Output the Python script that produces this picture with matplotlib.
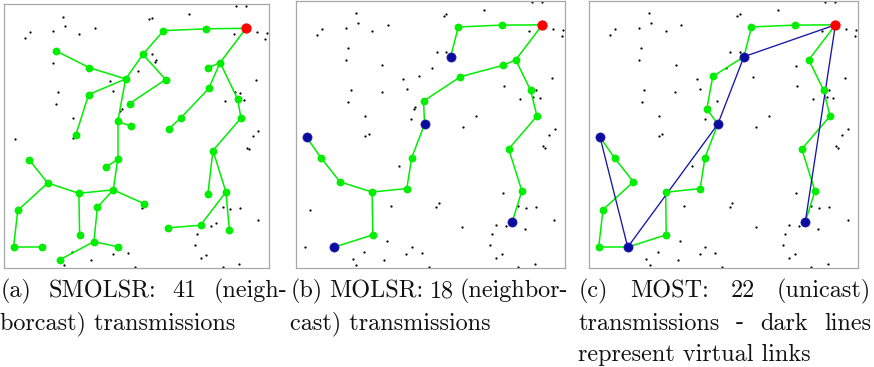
import matplotlib
matplotlib.use("Agg")
import matplotlib.pyplot as plt

# all nodes of the network that do not forward in (a), field coords 0..100
dots_x = [87.7, 91.6, 22.4, 70.1, 55.0, 56.0, 9.8, 7.9, 18.6, 23.1, 28.5, 34.3, 95.6, 99.4, 98.8,
          86.8, 56.0, 57.5, 57.0, 18.6, 50.8, 40.0, 41.2, 20.5, 19.6, 95.2, 89.2, 83.4, 90.8, 44.5,
          25.9, 4.1, 25.9, 96.2, 94.2, 91.8, 92.7, 52.3, 82.7, 85.6, 89.2, 96.1, 78.2, 80.3, 73.0,
          72.1, 74.4, 76.5, 25.6, 41.1, 47.0, 33.0, 22.5, 49.6, 82.7, 89.0, 87.2, 43.8]
dots_y = [0.6, 0.6, 4.8, 3.7, 5.8, 5.2, 10.5, 12.8, 10.1, 8.5, 11.4, 9.0, 10.7, 11.0, 13.1,
          11.5, 19.1, 21.2, 22.0, 22.2, 25.2, 29.2, 33.0, 33.4, 37.9, 28.8, 33.6, 36.8, 36.5, 39.7,
          43.0, 51.1, 50.7, 48.2, 50.1, 54.5, 55.0, 77.3, 76.9, 77.7, 77.3, 81.9, 84.2, 82.8, 87.2,
          91.4, 96.2, 94.9, 94.0, 94.7, 94.4, 97.0, 99.0, 99.6, 99.7, 98.6, 33.5, 40.5]

# (a) SMOLSR tree, node 0 is the source
a_x = [91.5, 76.4, 60.3, 52.5, 46.0, 32.2, 19.5, 32.0, 27.1, 61.1, 47.5, 43.0, 47.9, 81.7, 77.0,
       77.4, 67.0, 62.2, 88.3, 89.6, 43.0, 38.4, 41.3, 53.1, 28.3, 16.5, 9.5, 5.2, 3.6, 14.4,
       28.6, 35.3, 34.0, 43.2, 21.2, 79.0, 77.1, 83.9, 85.2, 74.3, 61.9]
a_y = [9.2, 9.4, 10.1, 19.1, 28.4, 24.1, 17.7, 34.3, 49.8, 28.6, 37.7, 44.4, 46.3, 22.2, 24.3,
       32.0, 43.0, 47.4, 36.0, 43.2, 58.9, 61.8, 70.4, 75.7, 71.7, 67.8, 59.0, 78.2, 92.2, 92.2,
       87.6, 77.0, 90.0, 92.0, 96.8, 55.5, 71.8, 71.2, 85.5, 83.8, 84.8]
a_edges = [(0, 1), (1, 2), (2, 3), (3, 4), (3, 9), (9, 10), (4, 5), (5, 6), (4, 7), (7, 8),
           (4, 11), (11, 12), (0, 13), (13, 14), (13, 15), (15, 16), (16, 17), (13, 18), (18, 19),
           (19, 35), (11, 20), (20, 21), (20, 22), (22, 23), (22, 24), (24, 25), (25, 26), (25, 27),
           (27, 28), (28, 29), (24, 30), (22, 31), (31, 32), (32, 33), (32, 34), (35, 36), (35, 37),
           (37, 38), (37, 39), (39, 40)]

# (b) MOLSR tree
b_x = [91.6, 76.5, 60.4, 57.6, 81.7, 77.1, 61.2, 47.5, 47.9, 43.1, 41.3, 28.4, 16.5, 9.6, 4.1,
       28.7, 14.4, 87.2, 89.6, 79.1, 84.0, 80.4]
b_y = [9.1, 9.2, 9.9, 21.0, 22.2, 24.2, 28.5, 37.6, 46.2, 58.8, 70.3, 71.6, 67.8, 59.0, 51.1,
       87.6, 92.2, 33.5, 43.2, 55.5, 71.2, 82.8]
b_edges = [(0, 1), (1, 2), (2, 3), (0, 4), (4, 5), (5, 6), (6, 7), (7, 8), (8, 9), (9, 10),
           (10, 11), (11, 12), (12, 13), (13, 14), (11, 15), (15, 16), (4, 17), (17, 18), (18, 19),
           (19, 20), (20, 21)]
b_members = [3, 8, 14, 16, 21]

# (c) MOST tree
c_x = [91.6, 76.5, 60.4, 57.6, 46.0, 43.8, 47.9, 43.1, 41.3, 28.5, 28.7, 14.4, 3.6, 5.2, 16.5,
       9.6, 4.1, 81.7, 87.2, 89.6, 79.1, 84.0, 80.4]
c_y = [9.1, 9.2, 9.9, 21.0, 28.4, 40.5, 46.2, 58.8, 70.3, 71.7, 87.6, 92.2, 92.2, 78.2, 67.8,
       59.0, 51.1, 22.2, 33.5, 43.2, 55.5, 71.2, 82.8]
c_edges = [(0, 1), (1, 2), (2, 3), (3, 4), (4, 5), (5, 6), (6, 7), (7, 8), (8, 9), (9, 10),
           (10, 11), (11, 12), (12, 13), (13, 14), (14, 15), (15, 16), (0, 17), (17, 18), (18, 19),
           (19, 20), (20, 21), (21, 22)]
c_virtual = [(0, 3), (3, 6), (6, 11), (11, 16), (0, 22)]
c_members = [3, 6, 11, 16, 22]

captions = [
    [["(a)", "SMOLSR:", "41", "(neigh-"], "borcast) transmissions"],
    [["(b)", "MOLSR:", "18", "(neighbor-"], "cast) transmissions"],
    [["(c)", "MOST:", "22", "(unicast)"], ["transmissions", "-", "dark", "lines"], "represent virtual links"],
]

GREEN = "#00ee00"
BLUE = "#0b0b9c"
W, H = 874, 367

fig = plt.figure(figsize=(W / 100, H / 100), dpi=100)

# axes boxes in pixels (left, top, right, bottom)
boxes = [(4, 4, 268.5, 268), (295.5, 0.5, 565, 268), (589, 0.5, 858, 268)]
axs = []
for l, t, r, b in boxes:
    ax = fig.add_axes([l / W, 1 - b / H, (r - l) / W, (b - t) / H])
    ax.set_xlim(0, 100)
    ax.set_ylim(100, 0)
    ax.set_xticks([])
    ax.set_yticks([])
    for s in ax.spines.values():
        s.set_color("#a8a8a8")
        s.set_linewidth(0.9)
    # black dots: every node of the network
    ax.scatter(dots_x + a_x, dots_y + a_y, s=2.6, c="black", linewidths=0, zorder=1)
    axs.append(ax)


def draw_tree(ax, xs, ys, edges, color, lw, z):
    for i, j in edges:
        ax.plot([xs[i], xs[j]], [ys[i], ys[j]], color=color, lw=lw, zorder=z,
                solid_capstyle="round")


def draw_nodes(ax, xs, ys, members):
    n = range(1, len(xs))
    gx = [xs[i] for i in n if i not in members]
    gy = [ys[i] for i in n if i not in members]
    ax.plot(gx, gy, "o", ms=4.6, color=GREEN, mec=GREEN, zorder=4)
    if members:
        ax.plot([xs[i] for i in members], [ys[i] for i in members], "o", ms=6.6,
                color=BLUE, mec="#2020b0", mew=0.5, zorder=5)
    ax.plot(xs[0], ys[0], "o", ms=6.4, color="red", mec="red", zorder=6)


draw_tree(axs[0], a_x, a_y, a_edges, GREEN, 1.1, 2)
draw_nodes(axs[0], a_x, a_y, [])

draw_tree(axs[1], b_x, b_y, b_edges, GREEN, 1.1, 2)
draw_nodes(axs[1], b_x, b_y, b_members)

draw_tree(axs[2], c_x, c_y, c_edges, GREEN, 1.1, 2)
draw_tree(axs[2], c_x, c_y, c_virtual, "#1515a8", 0.95, 3)
draw_nodes(axs[2], c_x, c_y, c_members)

# captions, justified like in the paper
font = dict(family="cmr10", size=17.4, color="#111111")
fig.canvas.draw()
renderer = fig.canvas.get_renderer()
cap_x = [(0.5, 287.5), (290.5, 568.5), (578.5, 871)]
baselines = [297, 329.5, 361]

for (x0, x1), lines in zip(cap_x, captions):
    for k, line in enumerate(lines):
        y = 1 - baselines[k] / H
        if isinstance(line, str):
            fig.text(x0 / W, y, line, va="baseline", ha="left", **font)
            continue
        texts = [fig.text(0, y, w, va="baseline", ha="left", **font) for w in line]
        widths = [t.get_window_extent(renderer).width for t in texts]
        gap = (x1 - x0 - sum(widths)) / (len(texts) - 1)
        x = x0
        for t, wd in zip(texts, widths):
            t.set_x(x / W)
            x += wd + gap

fig.savefig("out.png", dpi=100)
